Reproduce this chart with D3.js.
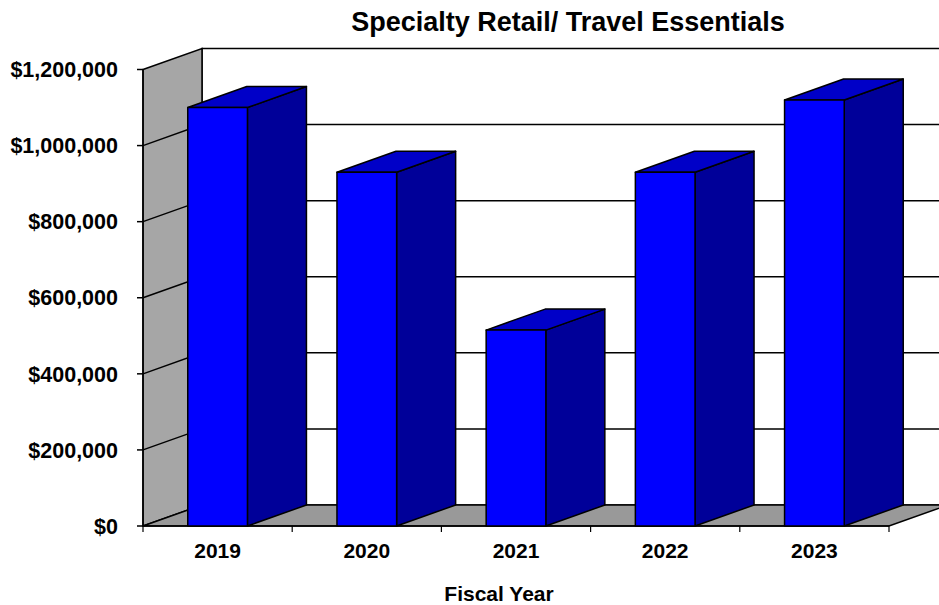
<!DOCTYPE html>
<html>
<head>
<meta charset="utf-8">
<script src="https://cdn.jsdelivr.net/npm/d3@7"></script>
<style>
  html, body { margin: 0; padding: 0; background: #fff; }
  svg { display: block; }
  text { font-family: "Liberation Sans", Arial, sans-serif; font-weight: bold; fill: #000; }
</style>
</head>
<body>
<svg id="chart" width="939" height="605"></svg>
<script>
// Sales by fiscal year
const years = ["2019", "2020", "2021", "2022", "2023"];
const sales = [1100000, 930000, 515000, 930000, 1120000];
const yTicks = [0, 200000, 400000, 600000, 800000, 1000000, 1200000];

const title = "Specialty Retail/ Travel Essentials";
const xTitle = "Fiscal Year";

const svg = d3.select("#chart");

// Front plane of the 3D box and depth offset to the back wall
const x0 = 143, x1 = 889;
const dx = 59, dy = -21;

const x = d3.scaleBand().domain(years).range([x0, x1]).paddingInner(0.6).paddingOuter(0.3);
const y = d3.scaleLinear().domain([0, 1200000]).range([526, 69.5]);

const fmt = v => "$" + d3.format(",")(v);
const pts = a => a.map(p => p.join(",")).join(" ");

const yMax = y.domain()[1];

// Back wall
svg.append("polygon")
  .attr("points", pts([[x0 + dx, y(yMax) + dy], [x1 + dx, y(yMax) + dy], [x1 + dx, y(0) + dy], [x0 + dx, y(0) + dy]]))
  .attr("fill", "#fff").attr("stroke", "#000").attr("stroke-width", 1.5);

// Left side wall
svg.append("polygon")
  .attr("points", pts([[x0, y(yMax)], [x0 + dx, y(yMax) + dy], [x0 + dx, y(0) + dy], [x0, y(0)]]))
  .attr("fill", "#a6a6a6").attr("stroke", "#000").attr("stroke-width", 1.5);

// Floor
svg.append("polygon")
  .attr("points", pts([[x0, y(0)], [x0 + dx, y(0) + dy], [x1 + dx, y(0) + dy], [x1, y(0)]]))
  .attr("fill", "#999999").attr("stroke", "#000").attr("stroke-width", 1.5);

// Gridlines on the side wall and back wall
const grid = svg.append("g").attr("stroke", "#000").attr("stroke-width", 1.5).attr("fill", "none");
yTicks.filter(t => t > 0 && t < yMax).forEach(t => {
  grid.append("polyline")
    .attr("points", pts([[x0, y(t)], [x0 + dx, y(t) + dy], [x1 + dx, y(t) + dy]]));
});

// Y axis ticks and labels on the front edge of the side wall
const yAxis = svg.append("g");
yTicks.forEach(t => {
  yAxis.append("line").attr("x1", x0 - 6).attr("x2", x0).attr("y1", y(t)).attr("y2", y(t))
    .attr("stroke", "#000").attr("stroke-width", 1.5);
  yAxis.append("text").attr("x", 118).attr("y", y(t)).attr("dy", "0.36em")
    .attr("text-anchor", "end").attr("font-size", 21.5).text(fmt(t));
});
yAxis.append("line").attr("x1", x0).attr("x2", x0).attr("y1", y(yMax)).attr("y2", y(0))
  .attr("stroke", "#000").attr("stroke-width", 1.5);

// X axis ticks at category boundaries
const step = x.step();
const xAxis = svg.append("g");
d3.range(years.length + 1).forEach(i => {
  xAxis.append("line")
    .attr("x1", x0 + step * i).attr("x2", x0 + step * i)
    .attr("y1", y(0)).attr("y2", y(0) + 6)
    .attr("stroke", "#000").attr("stroke-width", 1.2);
});
xAxis.append("line").attr("x1", x0).attr("x2", x1).attr("y1", y(0)).attr("y2", y(0))
  .attr("stroke", "#000").attr("stroke-width", 1.5);
years.forEach(yr => {
  xAxis.append("text").attr("x", x(yr) + x.bandwidth() / 2).attr("y", 558)
    .attr("text-anchor", "middle").attr("font-size", 21).text(yr);
});

// 3D columns
const bars = svg.append("g").attr("stroke", "#000").attr("stroke-width", 1.5).attr("stroke-linejoin", "round");
years.forEach((yr, i) => {
  const l = x(yr), r = l + x.bandwidth();
  const top = y(sales[i]), base = y(0);
  // right side
  bars.append("polygon")
    .attr("points", pts([[r, top], [r + dx, top + dy], [r + dx, base + dy], [r, base]]))
    .attr("fill", "#000099");
  // top
  bars.append("polygon")
    .attr("points", pts([[l, top], [l + dx, top + dy], [r + dx, top + dy], [r, top]]))
    .attr("fill", "#0000c8");
  // front
  bars.append("rect")
    .attr("x", l).attr("y", top).attr("width", r - l).attr("height", base - top)
    .attr("fill", "#0000ff");
});

// Titles
svg.append("text").attr("x", 568).attr("y", 31).attr("text-anchor", "middle")
  .attr("font-size", 27).text(title);
svg.append("text").attr("x", 499).attr("y", 601).attr("text-anchor", "middle")
  .attr("font-size", 21).text(xTitle);
</script>
</body>
</html>
